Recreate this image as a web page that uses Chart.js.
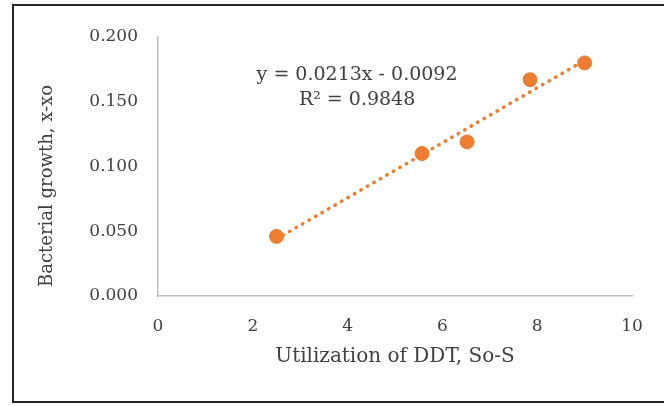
<!DOCTYPE html>
<html>
<head>
<meta charset="utf-8">
<script src="https://cdn.jsdelivr.net/npm/chart.js@4.4.0/dist/chart.umd.min.js"></script>
<style>
  html, body { margin: 0; padding: 0; background: #fff; }
  #wrap { width: 664px; height: 406px; position: relative; }
</style>
</head>
<body>
<div id="wrap"><canvas id="chart" width="664" height="406"></canvas></div>
<script>
// observed points
const ddtUsed = [2.5, 5.57, 6.52, 7.85, 9.0];
const growth = [0.046, 0.110, 0.119, 0.167, 0.180];
// trendline ends
const trendX = [2.5, 9.0];
const trendY = [0.044, 0.182];
const equationLines = ['y = 0.0213x - 0.0092', 'R\u00b2 = 0.9848'];
const yTitle = 'Bacterial growth, x-xo';

const serif = "'DejaVu Serif', 'Liberation Serif', serif";
const orange = '#ED7D31';
const textGrey = '#404040';

// frame around the whole chart, y title and trendline equation
const extras = {
  id: 'extras',
  afterDraw(chart) {
    const ctx = chart.ctx;
    const xs = chart.scales.x, ys = chart.scales.y;
    ctx.save();
    ctx.strokeStyle = '#262626';
    ctx.lineWidth = 2;
    ctx.strokeRect(13, 5, 700, 397);
    ctx.fillStyle = textGrey;
    ctx.textAlign = 'center';
    ctx.textBaseline = 'middle';
    ctx.font = '19px ' + serif;
    ctx.fillText(equationLines[0], xs.getPixelForValue(4.2), ys.getPixelForValue(0.1705));
    ctx.fillText(equationLines[1], xs.getPixelForValue(4.2), ys.getPixelForValue(0.151));
    ctx.font = '18px ' + serif;
    ctx.translate(47, ys.getPixelForValue(0.085));
    ctx.rotate(-Math.PI / 2);
    ctx.fillText(yTitle, 0, 0);
    ctx.restore();
  }
};

new Chart(document.getElementById('chart'), {
  type: 'scatter',
  data: {
    datasets: [
      {
        label: 'trend',
        data: trendX.map((x, i) => ({ x: x, y: trendY[i] })),
        showLine: true,
        borderColor: orange,
        borderWidth: 3.5,
        borderDash: [0.5, 7],
        borderCapStyle: 'round',
        pointRadius: 0,
        order: 2
      },
      {
        label: 'growth',
        data: ddtUsed.map((x, i) => ({ x: x, y: growth[i] })),
        backgroundColor: orange,
        borderColor: orange,
        pointRadius: 7,
        order: 1
      }
    ]
  },
  options: {
    responsive: false,
    animation: false,
    layout: { padding: { left: 28, top: 37, right: 32, bottom: 30 } },
    plugins: { legend: { display: false }, tooltip: { enabled: false } },
    scales: {
      x: {
        min: 0, max: 10,
        grid: { display: false, drawTicks: false },
        border: { color: '#bfbfbf', width: 1.5 },
        ticks: { stepSize: 2, padding: 20, color: textGrey, font: { family: serif, size: 17 } },
        title: { display: true, text: 'Utilization of DDT, So-S', color: textGrey,
                 font: { family: serif, size: 20 }, padding: { top: 0, bottom: 7 } },
        afterFit(s) { s.height = 80; }
      },
      y: {
        min: 0, max: 0.2,
        grid: { display: false, drawTicks: false },
        border: { color: '#bfbfbf', width: 1.5 },
        ticks: { stepSize: 0.05, padding: 20, color: textGrey, font: { family: serif, size: 17 },
                 callback: v => v.toFixed(3) },
        afterFit(s) { s.width = 130; }
      }
    }
  },
  plugins: [extras]
});
</script>
</body>
</html>
